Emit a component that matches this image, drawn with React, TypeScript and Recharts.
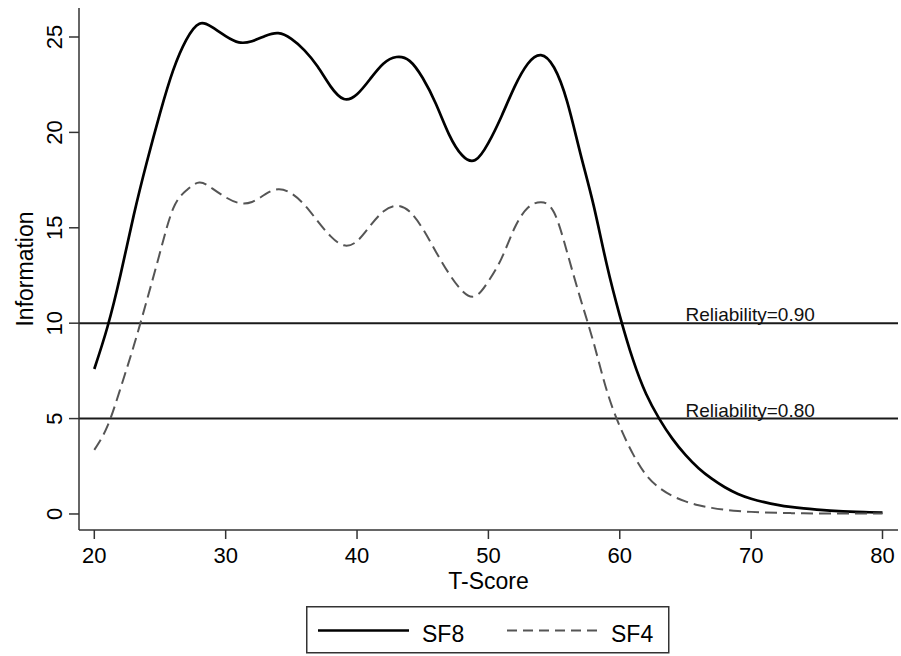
import React from 'react';
import { LineChart, Line, XAxis, YAxis, ReferenceLine, ReferenceDot } from 'recharts';

// T-score grid, one point per unit
const tScore = [
  20, 21, 22, 23, 24, 25, 26, 27, 28, 29, 30, 31, 32, 33, 34, 35, 36, 37, 38, 39,
  40, 41, 42, 43, 44, 45, 46, 47, 48, 49, 50, 51, 52, 53, 54, 55, 56, 57, 58, 59,
  60, 61, 62, 63, 64, 65, 66, 67, 68, 69, 70, 71, 72, 73, 74, 75, 76, 77, 78, 79, 80,
];

const sf8 = [
  7.6, 9.8, 12.55, 15.65, 18.45, 21.0, 23.25, 24.85, 25.7, 25.5, 25.05, 24.72, 24.78, 25.05, 25.2, 24.9, 24.3, 23.45, 22.4, 21.75,
  22.0, 22.8, 23.6, 23.95, 23.75, 22.85, 21.5, 19.9, 18.8, 18.55, 19.45, 20.85, 22.4, 23.6, 24.05, 23.4, 21.6, 18.9, 16.2, 13.1,
  10.4, 8.1, 6.3, 5.0, 3.95, 3.1, 2.4, 1.85, 1.4, 1.05, 0.8, 0.62, 0.48, 0.37, 0.29, 0.23, 0.18, 0.14, 0.11, 0.09, 0.07,
];

const sf4 = [
  3.36, 4.6, 6.6, 8.8, 11.2, 13.7, 16.0, 16.95, 17.37, 17.05, 16.6, 16.3, 16.35, 16.75, 17.02, 16.8, 16.2, 15.35, 14.55, 14.08,
  14.3, 15.1, 15.85, 16.15, 15.85, 14.95, 13.75, 12.6, 11.7, 11.42, 12.2, 13.4, 15.0, 16.05, 16.34, 15.8, 13.7, 11.3, 9.0, 6.5,
  4.6, 3.15, 2.05, 1.38, 0.95, 0.66, 0.46, 0.32, 0.22, 0.15, 0.11, 0.08, 0.06, 0.045, 0.035, 0.03, 0.025, 0.02, 0.02, 0.02, 0.02,
];

const xTicks = [20, 30, 40, 50, 60, 70, 80];
const yTicks = [0, 5, 10, 15, 20, 25];

const reliability = [
  { y: 10, label: 'Reliability=0.90' },
  { y: 5, label: 'Reliability=0.80' },
];
const labelAt = 65;

const series = [
  { key: 'SF8', color: '#000', width: 2.7, dash: undefined as string | undefined },
  { key: 'SF4', color: '#555', width: 2, dash: '12 6' },
];

const data = tScore.map((t, i) => ({ t, SF8: sf8[i], SF4: sf4[i] }));

const font = '"Liberation Sans", Arial, Helvetica, sans-serif';

const YTick = (props: any) => {
  const { x, y, payload } = props;
  return (
    <text x={x} y={y} transform={`rotate(-90 ${x} ${y})`} textAnchor="middle" fontSize={22} fill="#000">
      {payload.value}
    </text>
  );
};

const RelLabel = (text: string) => (props: any) => {
  const vb = props.viewBox;
  return (
    <text x={vb.x} y={vb.y - 2} fontSize={19} fill="#111">
      {text}
    </text>
  );
};

export default function App() {
  return (
    <div style={{ position: 'absolute', left: 0, top: 0, width: 901, height: 656, background: '#fff', fontFamily: font }}>
      <LineChart width={901} height={656} data={data} margin={{ top: 8, right: 3, bottom: 0, left: 0 }}>
        <XAxis
          dataKey="t"
          type="number"
          domain={[18.835, 81.18]}
          ticks={xTicks}
          height={126}
          tickSize={9}
          tickMargin={8}
          stroke="#333"
          strokeWidth={1.5}
          tick={{ fill: '#000', fontSize: 22 }}
          label={(p: any) => {
            const vb = p.viewBox;
            return (
              <text x={vb.x + vb.width / 2} y={vb.y + 59} textAnchor="middle" fontSize={23} fill="#000">
                T-Score
              </text>
            );
          }}
        />
        <YAxis
          type="number"
          domain={[-0.84, 26.52]}
          ticks={yTicks}
          width={79}
          tickSize={10}
          tickMargin={7}
          stroke="#333"
          strokeWidth={1.5}
          tick={<YTick />}
          label={(p: any) => {
            const vb = p.viewBox;
            const cx = vb.x + 33;
            const cy = vb.y + vb.height / 2;
            return (
              <text x={cx} y={cy} transform={`rotate(-90 ${cx} ${cy})`} textAnchor="middle" fontSize={23} fill="#000">
                Information
              </text>
            );
          }}
        />
        {reliability.map((r) => (
          <ReferenceLine key={r.y} y={r.y} stroke="#1a1a1a" strokeWidth={2} />
        ))}
        {series.map((s) => (
          <Line
            key={s.key}
            dataKey={s.key}
            type="natural"
            stroke={s.color}
            strokeWidth={s.width}
            strokeDasharray={s.dash}
            dot={false}
            activeDot={false}
            isAnimationActive={false}
          />
        ))}
        {reliability.map((r) => (
          <ReferenceDot key={'l' + r.y} x={labelAt} y={r.y} r={0} fill="none" stroke="none" label={RelLabel(r.label)} />
        ))}
      </LineChart>
      <svg style={{ position: 'absolute', left: 306, top: 606 }} width={364} height={48}>
        <rect x={0.75} y={0.75} width={362} height={46} fill="#fff" stroke="#333" strokeWidth={1.5} />
        {series.map((s, i) => (
          <g key={s.key} transform={`translate(${i * 189} 0)`}>
            <line x1={12} x2={103} y1={24.5} y2={24.5} stroke={s.color} strokeWidth={s.width} strokeDasharray={s.dash ? '10 6' : undefined} />
            <text x={116} y={35.5} fontSize={23} fill="#000" fontFamily={font}>
              {s.key}
            </text>
          </g>
        ))}
      </svg>
    </div>
  );
}
